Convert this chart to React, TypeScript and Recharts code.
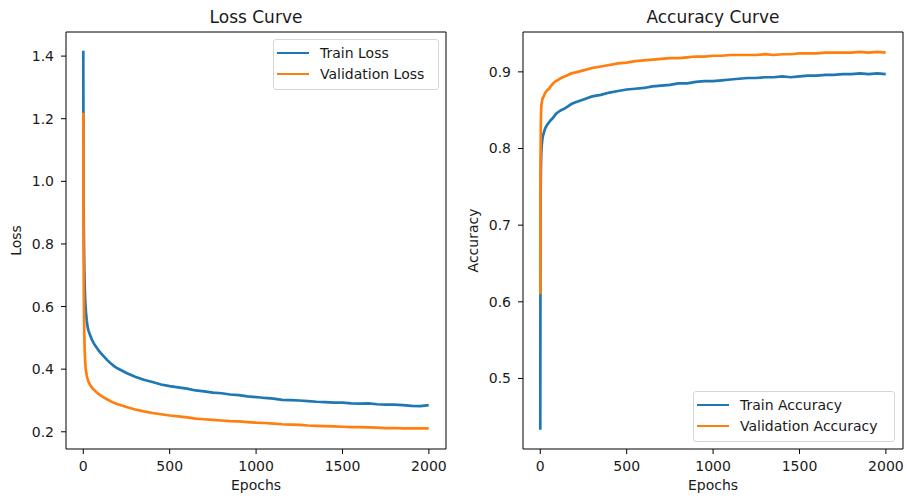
import { LineChart, Line, XAxis, YAxis, Legend, ReferenceLine } from 'recharts'

const epochs = [
  0, 1, 2, 3, 4, 5, 6, 8, 10, 12, 15, 20, 25, 30, 40, 50, 60, 70, 80, 90,
  100, 120, 140, 160, 180, 200, 250, 300, 350, 400, 450, 500, 550, 600, 650, 700,
  750, 800, 850, 900, 950, 1000, 1050, 1100, 1150, 1200, 1250, 1300, 1350, 1400,
  1450, 1500, 1550, 1600, 1650, 1700, 1750, 1800, 1850, 1900, 1950, 1999
]

const trainLoss = [
  1.417, 1.12, 0.95, 0.86, 0.8, 0.76, 0.72, 0.67, 0.635, 0.61, 0.585, 0.555, 0.535, 0.523, 0.508, 0.494, 0.483, 0.475, 0.467, 0.459,
  0.452, 0.44, 0.428, 0.418, 0.409, 0.402, 0.388, 0.376, 0.366, 0.359, 0.351, 0.346, 0.342, 0.338, 0.332, 0.329,
  0.325, 0.323, 0.319, 0.317, 0.313, 0.311, 0.308, 0.306, 0.302, 0.301, 0.3, 0.298, 0.296, 0.295,
  0.293, 0.293, 0.291, 0.29, 0.291, 0.288, 0.287, 0.287, 0.285, 0.283, 0.282, 0.285
]

const valLoss = [
  1.219, 0.92, 0.76, 0.66, 0.59, 0.545, 0.51, 0.465, 0.435, 0.415, 0.398, 0.38, 0.368, 0.36, 0.349, 0.341, 0.335, 0.33, 0.325, 0.32,
  0.316, 0.309, 0.303, 0.297, 0.292, 0.288, 0.279, 0.271, 0.265, 0.26, 0.256, 0.252, 0.249, 0.246, 0.242, 0.24,
  0.238, 0.236, 0.234, 0.233, 0.231, 0.229, 0.228, 0.226, 0.224, 0.223, 0.222, 0.22, 0.219, 0.218,
  0.217, 0.216, 0.215, 0.215, 0.214, 0.213, 0.212, 0.212, 0.211, 0.211, 0.211, 0.211
]

const trainAcc = [
  0.433, 0.66, 0.73, 0.76, 0.778, 0.788, 0.795, 0.803, 0.808, 0.812, 0.816, 0.82, 0.824, 0.827, 0.831, 0.834, 0.837, 0.839, 0.842, 0.845,
  0.847, 0.85, 0.852, 0.855, 0.858, 0.86, 0.864, 0.868, 0.87, 0.873, 0.875, 0.877, 0.878, 0.879, 0.881, 0.882,
  0.883, 0.885, 0.885, 0.887, 0.888, 0.888, 0.889, 0.89, 0.891, 0.892, 0.892, 0.893, 0.893, 0.894,
  0.893, 0.894, 0.895, 0.895, 0.896, 0.896, 0.897, 0.897, 0.898, 0.897, 0.898, 0.897
]

const valAcc = [
  0.61, 0.74, 0.8, 0.828, 0.842, 0.85, 0.855, 0.859, 0.862, 0.864, 0.866, 0.868, 0.871, 0.873, 0.876, 0.878, 0.881, 0.884, 0.886, 0.888,
  0.889, 0.892, 0.894, 0.896, 0.898, 0.899, 0.902, 0.905, 0.907, 0.909, 0.911, 0.912, 0.914, 0.915, 0.916, 0.917,
  0.918, 0.918, 0.919, 0.92, 0.92, 0.921, 0.921, 0.922, 0.922, 0.922, 0.922, 0.923, 0.922, 0.923,
  0.923, 0.924, 0.924, 0.924, 0.925, 0.925, 0.925, 0.925, 0.926, 0.925, 0.926, 0.925
]

const epochTicks = [0, 500, 1000, 1500, 2000]
const lossTicks = [0.2, 0.4, 0.6, 0.8, 1.0, 1.2, 1.4]
const accTicks = [0.5, 0.6, 0.7, 0.8, 0.9]

const BLUE = '#1f77b4'
const ORANGE = '#ff7f0e'
const INK = '#1a1a1a'
const FONT = '"DejaVu Sans", sans-serif'
const X_DOMAIN: [number, number] = [-100, 2099]

const lossData = epochs.map((epoch, i) => ({ epoch, train: trainLoss[i], val: valLoss[i] }))
const accData = epochs.map((epoch, i) => ({ epoch, train: trainAcc[i], val: valAcc[i] }))

function LegendBox({ payload, width }: { payload?: any[]; width: number }) {
  return (
    <div
      style={{
        boxSizing: 'border-box',
        width,
        height: 51,
        padding: '2px 4px 0 3px',
        border: '1px solid #d6d6d6',
        borderRadius: 3,
        background: 'rgba(255,255,255,0.8)',
        fontSize: 14,
        color: INK,
        fontFamily: FONT
      }}
    >
      {(payload || []).map((p) => (
        <div key={p.value} style={{ display: 'flex', alignItems: 'center', height: 21, whiteSpace: 'nowrap' }}>
          <span style={{ display: 'inline-block', width: 32, borderTop: `2px solid ${p.color}`, marginRight: 11 }} />
          <span>{p.value}</span>
        </div>
      ))}
    </div>
  )
}

type PanelProps = {
  data: { epoch: number; train: number; val: number }[]
  width: number
  yWidth: number
  right: number
  domain: [number, number]
  ticks: number[]
  yLabel: string
  names: [string, string]
  legendPos: { top: number; left: number; width: number }
}

function Panel({ data, width, yWidth, right, domain, ticks, yLabel, names, legendPos }: PanelProps) {
  const tickStyle = { fill: INK, fontSize: 14, fontFamily: FONT }
  return (
    <LineChart width={width} height={499} data={data} margin={{ top: 32, right, bottom: 0, left: 0 }}>
      <XAxis
        dataKey="epoch"
        type="number"
        domain={X_DOMAIN}
        ticks={epochTicks}
        allowDataOverflow
        height={50}
        tick={tickStyle}
        tickSize={5}
        tickMargin={7}
        tickLine={{ stroke: '#000' }}
        axisLine={{ stroke: '#000' }}
        label={{ value: 'Epochs', position: 'insideBottom', offset: 9, fill: INK, fontSize: 14, fontFamily: FONT }}
      />
      <YAxis
        type="number"
        domain={domain}
        ticks={ticks}
        allowDataOverflow
        width={yWidth}
        tick={tickStyle}
        tickSize={5}
        tickMargin={7}
        tickFormatter={(v: number) => v.toFixed(1)}
        tickLine={{ stroke: '#000' }}
        axisLine={{ stroke: '#000' }}
        label={{
          value: yLabel,
          angle: -90,
          position: 'insideLeft',
          offset: yWidth - 50,
          fill: INK,
          fontSize: 14,
          fontFamily: FONT,
          style: { textAnchor: 'middle' }
        }}
      />
      {/* matplotlib-style frame: top and right spines */}
      <ReferenceLine y={domain[1]} stroke="#000" strokeWidth={1} ifOverflow="extendDomain" />
      <ReferenceLine x={X_DOMAIN[1]} stroke="#000" strokeWidth={1} ifOverflow="extendDomain" />
      <Legend
        layout="vertical"
        align="center"
        verticalAlign="middle"
        wrapperStyle={{ top: legendPos.top, left: legendPos.left }}
        content={(props: any) => <LegendBox payload={props.payload} width={legendPos.width} />}
      />
      <Line
        type="linear"
        dataKey="train"
        name={names[0]}
        stroke={BLUE}
        strokeWidth={2.7}
        dot={false}
        isAnimationActive={false}
      />
      <Line
        type="linear"
        dataKey="val"
        name={names[1]}
        stroke={ORANGE}
        strokeWidth={2.7}
        dot={false}
        isAnimationActive={false}
      />
    </LineChart>
  )
}

const titleStyle = {
  position: 'absolute' as const,
  top: 6,
  fontSize: 17,
  lineHeight: '22px',
  textAlign: 'center' as const,
  color: INK,
  fontFamily: FONT
}

export default function App() {
  return (
    <div style={{ position: 'fixed', top: 0, left: 0, width: 907, height: 499, background: '#fff', fontFamily: FONT }}>
      <div style={{ ...titleStyle, left: 66, width: 380 }}>Loss Curve</div>
      <div style={{ ...titleStyle, left: 523, width: 380 }}>Accuracy Curve</div>
      <div style={{ position: 'absolute', top: 0, left: 0 }}>
        <Panel
          data={lossData}
          width={453}
          yWidth={66}
          right={7}
          domain={[0.145, 1.477]}
          ticks={lossTicks}
          yLabel="Loss"
          names={['Train Loss', 'Validation Loss']}
          legendPos={{ top: 39, left: 273, width: 166 }}
        />
      </div>
      <div style={{ position: 'absolute', top: 0, left: 453 }}>
        <Panel
          data={accData}
          width={454}
          yWidth={70}
          right={4}
          domain={[0.408, 0.952]}
          ticks={accTicks}
          yLabel="Accuracy"
          names={['Train Accuracy', 'Validation Accuracy']}
          legendPos={{ top: 391, left: 240, width: 202 }}
        />
      </div>
    </div>
  )
}
